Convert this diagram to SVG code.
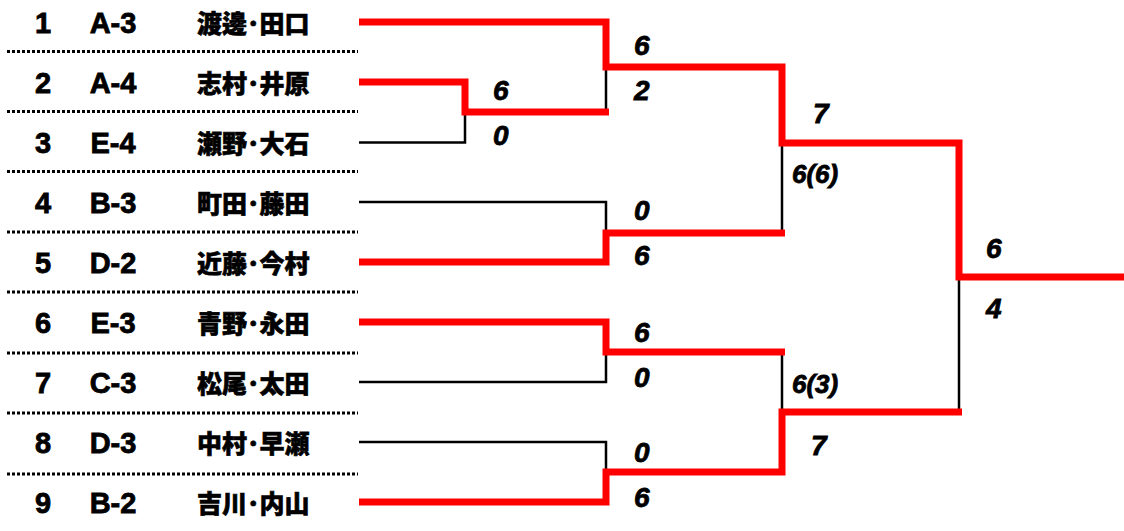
<svg xmlns="http://www.w3.org/2000/svg" width="1124" height="531" viewBox="0 0 1124 531">
<style>
.num{font-family:"Liberation Sans",Arial,sans-serif;font-weight:bold;font-size:29px;fill:#000;stroke:#000;stroke-width:0.8;text-anchor:middle}
.name{font-family:"Noto Sans CJK JP","Noto Sans CJK SC",sans-serif;font-weight:900;font-size:25px;fill:#000;stroke:#000;stroke-width:0.6}
.sc{font-family:"Liberation Sans",Arial,sans-serif;font-weight:bold;font-style:italic;font-size:28px;fill:#000;stroke:#000;stroke-width:0.8}
.sc2{font-family:"Liberation Sans",Arial,sans-serif;font-weight:bold;font-style:italic;font-size:26px;fill:#000;stroke:#000;stroke-width:0.8}
.dot{stroke:#000;stroke-width:3;stroke-dasharray:3 2;fill:none}
.blk{stroke:#000;stroke-width:2.5;fill:none}
.red{stroke:#ff0000;stroke-width:7;fill:none;stroke-linejoin:miter}
</style>
<rect width="1124" height="531" fill="#fff"/>
<g id="rows">
<g id="row1"><text class="num" x="43" y="33">1</text><text class="num" x="113" y="33">A-3</text><text class="name" x="197" y="33">渡邊･田口</text></g>
<g id="row2"><text class="num" x="43" y="93">2</text><text class="num" x="113" y="93">A-4</text><text class="name" x="197" y="93">志村･井原</text></g>
<g id="row3"><text class="num" x="43" y="153">3</text><text class="num" x="113" y="153">E-4</text><text class="name" x="197" y="153">瀬野･大石</text></g>
<g id="row4"><text class="num" x="43" y="213">4</text><text class="num" x="113" y="213">B-3</text><text class="name" x="197" y="213">町田･藤田</text></g>
<g id="row5"><text class="num" x="43" y="273">5</text><text class="num" x="113" y="273">D-2</text><text class="name" x="197" y="273">近藤･今村</text></g>
<g id="row6"><text class="num" x="43" y="333">6</text><text class="num" x="113" y="333">E-3</text><text class="name" x="197" y="333">青野･永田</text></g>
<g id="row7"><text class="num" x="43" y="393">7</text><text class="num" x="113" y="393">C-3</text><text class="name" x="197" y="393">松尾･太田</text></g>
<g id="row8"><text class="num" x="43" y="453">8</text><text class="num" x="113" y="453">D-3</text><text class="name" x="197" y="453">中村･早瀬</text></g>
<g id="row9"><text class="num" x="43" y="513">9</text><text class="num" x="113" y="513">B-2</text><text class="name" x="197" y="513">吉川･内山</text></g>
</g>
<g id="separators">
<path class="dot" d="M7,51.5H358M7,111.5H358M7,171.5H358M7,232H358M7,292H358M7,353H358M7,413H358M7,474H358"/>
</g>
<g id="connectors">
<path class="blk" d="M359,142.5H465V112"/>
<path class="blk" d="M606,67V112"/>
<path class="blk" d="M359,202H606V233"/>
<path class="blk" d="M782,143V233"/>
<path class="blk" d="M359,382H606V352"/>
<path class="blk" d="M359,442H606V472"/>
<path class="blk" d="M782,352V412"/>
<path class="blk" d="M959,277V412"/>
<path class="red" d="M359,22H606V67H782V143H959V277H1124"/>
<path class="red" d="M359,82H465V112H609"/>
<path class="red" d="M359,262H606V233H785"/>
<path class="red" d="M359,322H606V352H785"/>
<path class="red" d="M359,502H606V472H782V412H962"/>
</g>
<g id="scores">
<text class="sc" x="493" y="100">6</text><text class="sc" x="493" y="145">0</text>
<text class="sc" x="634" y="55">6</text><text class="sc" x="634" y="100">2</text>
<text class="sc" x="634" y="220">0</text><text class="sc" x="634" y="265">6</text>
<text class="sc" x="634" y="342">6</text><text class="sc" x="634" y="387">0</text>
<text class="sc" x="634" y="462">0</text><text class="sc" x="634" y="507">6</text>
<text class="sc" x="813" y="123">7</text><text class="sc2" x="792" y="183">6(6)</text>
<text class="sc2" x="792" y="393">6(3)</text><text class="sc" x="811" y="455">7</text>
<text class="sc" x="986" y="258">6</text><text class="sc" x="986" y="318">4</text>
</g>
</svg>
